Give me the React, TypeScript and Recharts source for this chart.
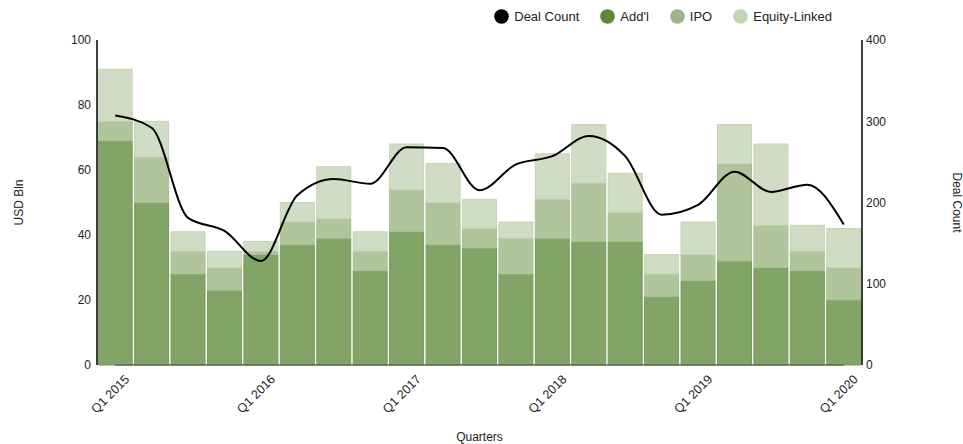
import React from 'react';
import {
  ComposedChart,
  Bar,
  Line,
  XAxis,
  YAxis,
  Legend,
  ReferenceLine,
} from 'recharts';

const quarters = [
  'Q1 2015', 'Q2 2015', 'Q3 2015', 'Q4 2015',
  'Q1 2016', 'Q2 2016', 'Q3 2016', 'Q4 2016',
  'Q1 2017', 'Q2 2017', 'Q3 2017', 'Q4 2017',
  'Q1 2018', 'Q2 2018', 'Q3 2018', 'Q4 2018',
  'Q1 2019', 'Q2 2019', 'Q3 2019', 'Q4 2019',
  'Q1 2020',
];
const addl = [69, 50, 28, 23, 34, 37, 39, 29, 41, 37, 36, 28, 39, 38, 38, 21, 26, 32, 30, 29, 20];
const ipo = [6, 14, 7, 7, 1, 7, 6, 6, 13, 13, 6, 11, 12, 18, 9, 7, 8, 30, 13, 6, 10];
const equityLinked = [16, 11, 6, 5, 3, 6, 16, 6, 14, 12, 9, 5, 14, 18, 12, 6, 10, 12, 25, 8, 12];
const dealCount = [307, 292, 181, 165, 128, 209, 229, 223, 268, 267, 215, 247, 257, 282, 257, 185, 197, 238, 213, 222, 173];

const leftTicks = [0, 20, 40, 60, 80, 100];
const rightTicks = [0, 100, 200, 300, 400];

const legendItems = [
  { name: 'Deal Count', color: '#000000' },
  { name: "Add'l", color: '#5b8a37' },
  { name: 'IPO', color: '#9cb687' },
  { name: 'Equity-Linked', color: '#c3d5b2' },
];

const FONT = '"Liberation Sans", Arial, sans-serif';

const data = quarters.map((q, i) => ({
  quarter: q,
  addl: addl[i],
  ipo: ipo[i],
  equityLinked: equityLinked[i],
  dealCount: dealCount[i],
}));

function QuarterTick({ x, y, payload }: any) {
  return (
    <g transform={`translate(${x + 15},${y + 7})`}>
      <text
        transform="rotate(-45)"
        textAnchor="end"
        fontSize={12.5}
        fontFamily={FONT}
        fill="#222"
      >
        {payload.value}
      </text>
    </g>
  );
}

function LegendContent() {
  return (
    <div style={{ display: 'flex', alignItems: 'center', fontFamily: FONT, fontSize: 13, color: '#222' }}>
      {legendItems.map((item) => (
        <div key={item.name} style={{ display: 'flex', alignItems: 'center', marginRight: 21 }}>
          <svg width={15} height={15} style={{ marginRight: 5 }}>
            <circle cx={7.5} cy={7.5} r={7.3} fill={item.color} />
          </svg>
          <span>{item.name}</span>
        </div>
      ))}
    </div>
  );
}

export default function App() {
  return (
    <div style={{ position: 'absolute', left: 0, top: 0, width: 963, height: 444, background: '#fff' }}>
      <ComposedChart
        width={963}
        height={444}
        data={data}
        margin={{ top: 8, right: 0, left: 0, bottom: 0 }}
        barCategoryGap={1.2}
      >
        <Legend
          verticalAlign="top"
          align="right"
          content={<LegendContent />}
          wrapperStyle={{ top: 9, right: 110, left: 'auto', width: 'auto', height: 32 }}
        />
        <XAxis
          dataKey="quarter"
          height={79}
          interval={3}
          axisLine={false}
          tickLine={false}
          tick={<QuarterTick />}
          label={{
            value: 'Quarters',
            position: 'insideBottom',
            offset: 3,
            style: { fontSize: 12, fontFamily: FONT, fill: '#222' },
          }}
        />
        <YAxis
          yAxisId="left"
          width={97}
          domain={[0, 100]}
          ticks={leftTicks}
          tickLine={false}
          tickSize={4}
          tickMargin={2}
          axisLine={{ stroke: '#000', strokeWidth: 1.5 }}
          tick={{ fontSize: 12, fontFamily: FONT, fill: '#222' }}
          label={{
            value: 'USD Bln',
            angle: -90,
            position: 'center',
            dx: -30,
            style: { fontSize: 12, fontFamily: FONT, fill: '#222' },
          }}
        />
        <YAxis
          yAxisId="right"
          orientation="right"
          width={101}
          domain={[0, 400]}
          ticks={rightTicks}
          tickLine={false}
          tickSize={2}
          tickMargin={2}
          axisLine={{ stroke: '#000', strokeWidth: 1.5 }}
          tick={{ fontSize: 12, fontFamily: FONT, fill: '#222' }}
          label={{
            value: 'Deal Count',
            angle: 90,
            position: 'center',
            dx: 45,
            style: { fontSize: 12, fontFamily: FONT, fill: '#222' },
          }}
        />
        <Bar yAxisId="left" dataKey="addl" name="Add'l" stackId="a" fill="#83a467" stroke="#76995a" isAnimationActive={false} />
        <Bar yAxisId="left" dataKey="ipo" name="IPO" stackId="a" fill="#b1c59c" stroke="#a8bf92" isAnimationActive={false} />
        <Bar yAxisId="left" dataKey="equityLinked" name="Equity-Linked" stackId="a" fill="#d0dcc3" stroke="#c4d4b4" isAnimationActive={false} />
        <ReferenceLine
          yAxisId="left"
          segment={[{ x: quarters[0], y: 0 }, { x: quarters[quarters.length - 1], y: 0 }]}
          stroke="#666"
          strokeWidth={1.5}
        />
        <Line
          yAxisId="right"
          type="monotone"
          dataKey="dealCount"
          name="Deal Count"
          stroke="#000"
          strokeWidth={2}
          dot={false}
          isAnimationActive={false}
        />
      </ComposedChart>
    </div>
  );
}
